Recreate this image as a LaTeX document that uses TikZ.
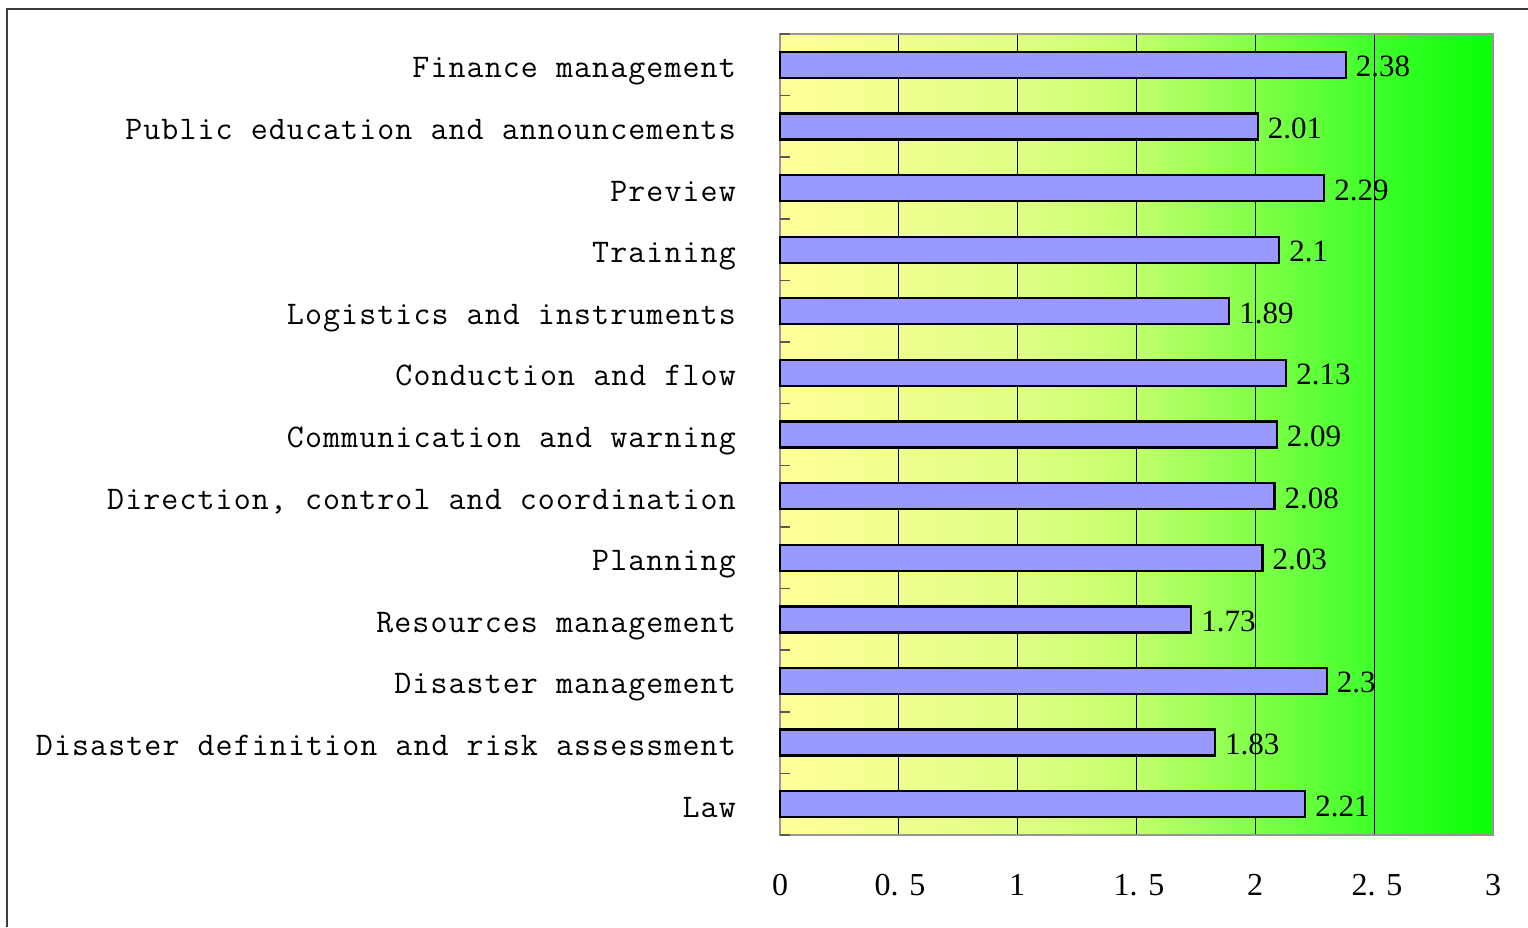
\documentclass[tikz,border=0pt]{standalone}
\usepackage{fontspec}
\newfontfamily\labfont[LetterSpace=3.3]{Latin Modern Mono}
\newfontfamily\numfont{Liberation Serif}
\pgfdeclarehorizontalshading{plotbg}{100bp}{rgb(0bp)=(1,1,0.6); rgb(25bp)=(1,1,0.6); rgb(41.5bp)=(0.88,1,0.52); rgb(50bp)=(0.76,1,0.42); rgb(58.5bp)=(0.5,1,0.28); rgb(66.5bp)=(0.25,1,0.17); rgb(75bp)=(0.03,1,0.03); rgb(100bp)=(0.03,1,0.03)}
\definecolor{barfill}{RGB}{153,153,255}
\definecolor{framegray}{RGB}{60,60,60}
\definecolor{axisgray}{RGB}{150,150,150}
\tikzset{
  catlabel/.style={anchor=base east, inner sep=0pt, font=\labfont\fontsize{33}{34}\selectfont},
  vallabel/.style={anchor=base west, inner sep=0pt, font=\numfont\fontsize{31}{32}\selectfont},
  ticklabel/.style={anchor=base, inner sep=0pt, font=\numfont\fontsize{32}{33}\selectfont},
  barbox/.style={draw=black, fill=barfill, line width=2.3pt},
  gridline/.style={black, line width=1pt},
  axisframe/.style={draw=axisgray, line width=2pt},
  outerframe/.style={framegray, line width=2pt},
  cattick/.style={draw=black!65, line width=1.5pt}
}
\begin{document}
\begin{tikzpicture}[x=1pt,y=-1pt]
\useasboundingbox (0,0) rectangle (1528,927);
\fill[white] (0,0) rectangle (1528,927);
% outer frame (top and left visible)
\draw[outerframe] (7,927) -- (7,9) -- (1528,9);
% plot background
\shade[shading=plotbg] (780,34) rectangle (1493,835);
% gridlines
\foreach \g in {0.5,1,1.5,2,2.5} {
  \draw[gridline] ({780+\g*237.67},34) -- ({780+\g*237.67},835);
}
% plot frame
\draw[axisframe] (780,34) rectangle (1493,835);
% category ticks
\foreach \k in {0,...,13} {
  \draw[cattick] (780,{34+\k*61.615}) -- (790,{34+\k*61.615});
}
% bars and labels
\foreach \lab/\val [count=\i from 0] in {
  Finance management/2.38,
  Public education and announcements/2.01,
  Preview/2.29,
  Training/2.1,
  Logistics and instruments/1.89,
  Conduction and flow/2.13,
  Communication and warning/2.09,
  {Direction, control and coordination}/2.08,
  Planning/2.03,
  Resources management/1.73,
  Disaster management/2.3,
  Disaster definition and risk assessment/1.83,
  Law/2.21} {
  \pgfmathsetmacro{\cy}{34+61.615*(\i+0.5)}
  \pgfmathsetmacro{\xe}{780+\val*237.67}
  \draw[barbox] (780,{\cy-13}) rectangle (\xe,{\cy+13});
  \node[catlabel] (cat\i) at (736,{\cy+13}) {\lab};
  \node[vallabel] (val\i) at ({\xe+10},{\cy+12}) {\val};
}
% x tick labels
\node[ticklabel] (t0) at (780,895) {0};
\node[ticklabel] (t1) at (900,895) {0. 5};
\node[ticklabel] (t2) at (1017,895) {1};
\node[ticklabel] (t3) at (1139,895) {1. 5};
\node[ticklabel] (t4) at (1255,895) {2};
\node[ticklabel] (t5) at (1377,895) {2. 5};
\node[ticklabel] (t6) at (1493,895) {3};
\end{tikzpicture}
\end{document}
